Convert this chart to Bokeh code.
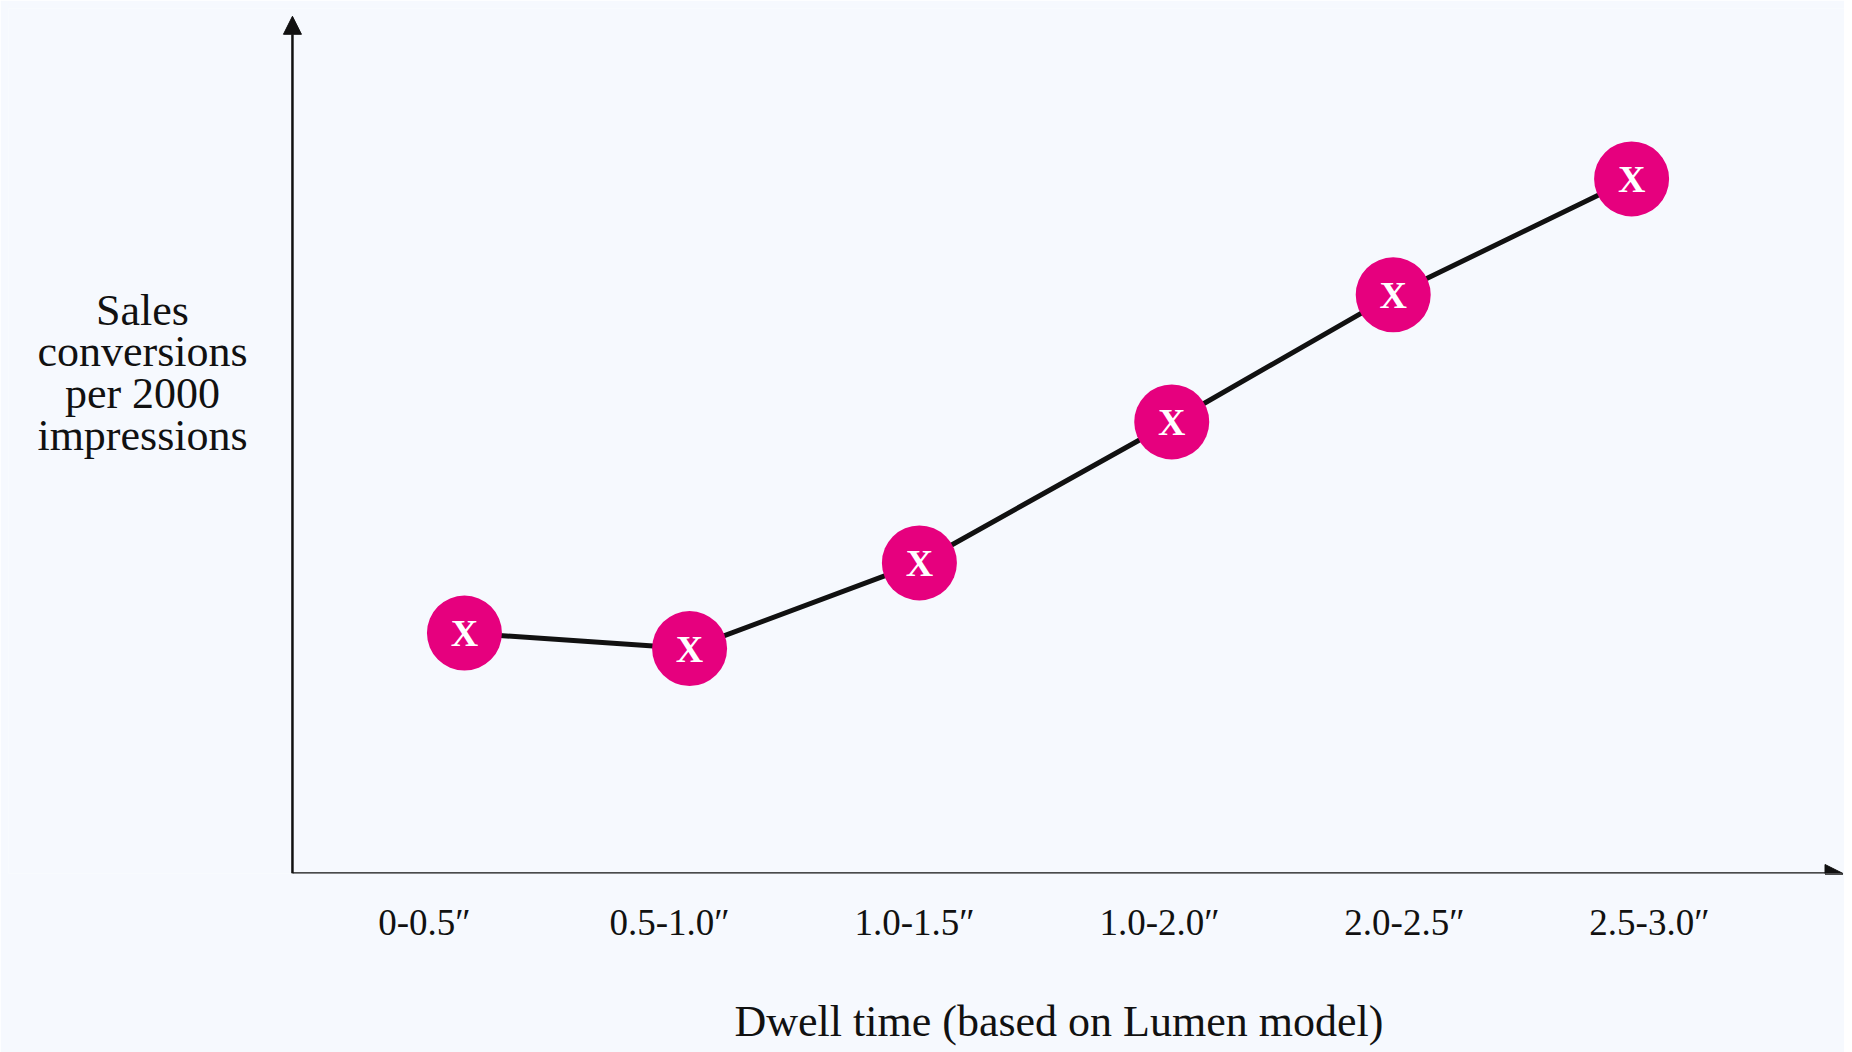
from bokeh.plotting import figure
from bokeh.models import Range1d, FixedTicker, Arrow, NormalHead, Label, Title, ColumnDataSource
from bokeh.core.properties import value
from bokeh.embed import file_html
from bokeh.resources import INLINE

# ---- data ----
categories = ["0-0.5\u2033", "0.5-1.0\u2033", "1.0-1.5\u2033", "1.0-2.0\u2033", "2.0-2.5\u2033", "2.5-3.0\u2033"]
category_pos = [0, 1, 2, 3, 4, 5]
# marker positions (category index units, as drawn) and values (arbitrary units, no scale shown)
marker_x = [0.163, 1.082, 2.02, 3.05, 3.954, 4.927]
conversions = [2.78, 2.60, 3.59, 5.22, 6.69, 8.03]
marker_text = ["X", "X", "X", "X", "X", "X"]
x_title = "Dwell time (based on Lumen model)"
y_title = "Sales\nconversions\nper 2000\nimpressions"

BG = "#F6F9FE"
INK = "#111111"
MAGENTA = "#E6007E"
FONT = "Liberation Serif"

p = figure(frame_width=1836, frame_height=865,
           x_range=Range1d(-1.698, 5.796), y_range=Range1d(0, 10),
           output_backend="svg", toolbar_location=None,
           min_border_left=8, min_border_right=0, min_border_top=8, min_border_bottom=0)
p.background_fill_color = BG
p.border_fill_color = BG
p.outline_line_color = None
p.xgrid.visible = False
p.ygrid.visible = False
p.yaxis.visible = False

ax = p.xaxis[0]
ax.ticker = FixedTicker(ticks=category_pos)
ax.major_label_overrides = {k: v for k, v in zip(category_pos, categories)}
ax.axis_line_color = None
ax.major_tick_line_color = None
ax.minor_tick_line_color = None
ax.major_tick_out = 0
ax.major_tick_in = 0
ax.major_label_standoff = 28
ax.major_label_text_font = FONT
ax.major_label_text_font_size = "37px"
ax.major_label_text_color = INK

# x title below the tick labels
p.add_layout(Title(text=x_title, align="left", offset=726, standoff=99,
                   text_font=FONT, text_font_size="44px", text_font_style="normal",
                   text_color=INK), "below")

# axes with arrows
y_axis_x = -0.539
p.add_layout(Arrow(x_start=y_axis_x, y_start=0, x_end=y_axis_x, y_end=9.91,
                   line_width=2.5, line_color=INK,
                   end=NormalHead(size=18, fill_color=INK, line_color=INK, line_width=1)))
p.add_layout(Arrow(x_start=y_axis_x, y_start=0, x_end=5.79, y_end=0,
                   line_width=2.5, line_color=INK,
                   end=NormalHead(size=18, fill_color=INK, line_color=INK, line_width=1)))

src = ColumnDataSource(dict(x=marker_x, y=conversions, t=marker_text))
p.line("x", "y", source=src, line_color=INK, line_width=5)
p.scatter("x", "y", source=src, size=75, fill_color=MAGENTA, line_color=None)
p.text("x", "y", text="t", source=src, text_color="white", text_font=value(FONT),
       text_font_style="bold", text_font_size="38px", text_align="center", text_baseline="middle")

p.add_layout(Label(x=-1.151, y=5.79, text=y_title,
                   text_font=FONT, text_font_size="44px", text_color=INK,
                   text_align="center", text_baseline="middle", text_line_height=0.85))

open("out.html", "w").write(file_html(p, INLINE))
